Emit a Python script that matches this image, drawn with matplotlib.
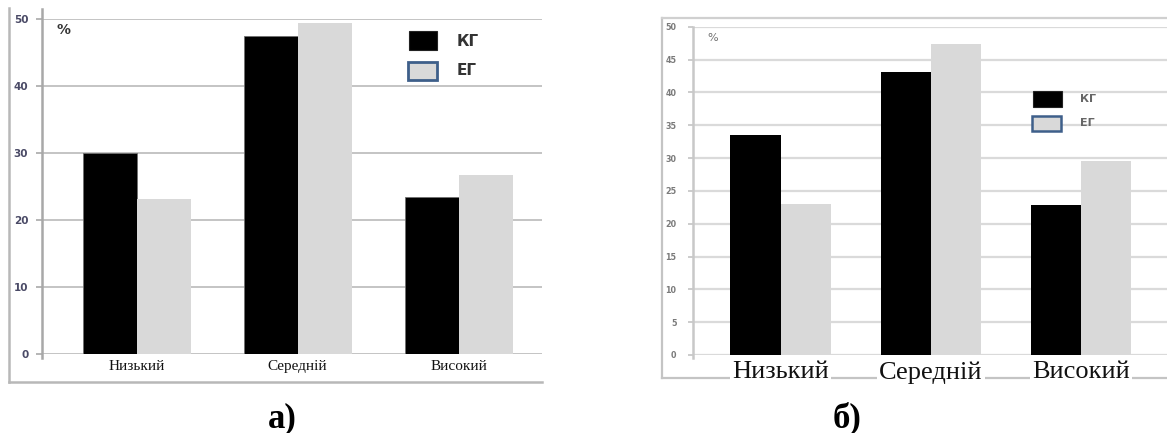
import matplotlib
matplotlib.use("Agg")
import matplotlib.pyplot as plt
from matplotlib.lines import Line2D
from matplotlib.patches import Rectangle
import numpy as np

# ---------------- data ----------------
categories = ["Низький", "Середній", "Високий"]
series_names = ["КГ", "ЕГ"]
kg_a = [30.0, 47.5, 23.5]
eg_a = [23.2, 49.5, 26.7]
kg_b = [33.5, 43.1, 22.8]
eg_b = [23.0, 47.4, 29.5]
ticks_a = [0, 10, 20, 30, 40, 50]
ticks_b = [0, 5, 10, 15, 20, 25, 30, 35, 40, 45, 50]
panel_labels = ["а)", "б)"]

W, H = 1167, 433
fig = plt.figure(figsize=(W / 100, H / 100), dpi=100)
fig.patch.set_facecolor("white")


def fx(x):
    return x / W


def fy(y):
    return 1 - y / H


def add_axes_px(x0, x1, ytop, ybot):
    return fig.add_axes([fx(x0), fy(ybot), (x1 - x0) / W, (ybot - ytop) / H])


def fig_line(xs, ys, color, lw, z=-1):
    fig.add_artist(Line2D([fx(x) for x in xs], [fy(y) for y in ys],
                          color=color, lw=lw, zorder=z))


def fig_rect(x0, y0, x1, y1, fc, ec, lw):
    fig.add_artist(Rectangle((fx(x0), fy(y1)), (x1 - x0) / W, (y1 - y0) / H,
                             facecolor=fc, edgecolor=ec, lw=lw, zorder=5))


COL_KG = "#000000"
COL_EG = "#d9d9d9"
BW = 0.335
x = np.arange(len(categories))

# ================= panel a =================
fig_line([9, 9], [8, 382], "#b8b8b8", 1.8)
fig_line([9, 542], [382, 382], "#b8b8b8", 1.8)

axa = add_axes_px(41.5, 542, 19.3, 354)
axa.bar(x - BW / 2, kg_a, BW, color=COL_KG, edgecolor="#707070", lw=0.6, zorder=3)
axa.bar(x + BW / 2, eg_a, BW, color=COL_EG, edgecolor="none", zorder=3)
axa.set_xlim(-0.59, 2.517)
axa.set_ylim(0, 50)
axa.set_yticks(ticks_a)
axa.set_yticklabels([str(t) for t in ticks_a], fontsize=7.5, fontweight="bold",
                    color="#4a4a66", family="DejaVu Sans")
axa.tick_params(axis="y", length=4.5, width=1.3, color="#b0b0b0", pad=5)
axa.grid(axis="y", color="#c4c4c4", lw=1.4, zorder=0)
axa.set_xticks(x)
axa.set_xticklabels(categories, fontsize=11, family="Liberation Serif", color="#111111")
axa.tick_params(axis="x", length=0, pad=4)
for s in axa.spines.values():
    s.set_visible(False)
axa.plot([-0.59, -0.59], [-0.6, 51.6], color="#a8a8a8", lw=1.8, clip_on=False, zorder=4)

fig.text(fx(57), fy(30), "%", fontsize=10, fontweight="bold", color="#333333",
         va="center", ha="left", family="DejaVu Sans")
# legend a
fig_rect(408.5, 31, 437, 50, COL_KG, "#222222", 0.8)
fig_rect(407.5, 61.5, 436.5, 80, COL_EG, "#3e5f8a", 2.0)
fig.text(fx(457), fy(41), series_names[0], fontsize=11, fontweight="bold",
         color="#333333", va="center", ha="left", family="DejaVu Sans")
fig.text(fx(457), fy(70.5), series_names[1], fontsize=11, fontweight="bold",
         color="#333333", va="center", ha="left", family="DejaVu Sans")

fig.text(fx(282), fy(427), panel_labels[0], fontsize=25, fontweight="bold",
         family="Liberation Serif", ha="center", va="baseline")

# ================= panel b =================
fig_line([661.5, 661.5], [18.3, 377.7], "#c4c4c4", 1.6)
fig_line([661.5, 1167], [18.3, 18.3], "#d0d0d0", 1.6)
fig_line([661.5, 1167], [377.7, 377.7], "#c4c4c4", 1.6)

axb = add_axes_px(692.5, 1167, 26.7, 355)
axb.bar(x - BW / 2, kg_b, BW, color=COL_KG, edgecolor="none", zorder=3)
axb.bar(x + BW / 2, eg_b, BW, color=COL_EG, edgecolor="none", zorder=3)
axb.set_xlim(-0.588, 2.573)
axb.set_ylim(0, 50)
axb.set_yticks(ticks_b)
axb.set_yticklabels([str(t) for t in ticks_b], fontsize=5.8, fontweight="bold",
                    color="#7a7a7a", family="DejaVu Sans")
axb.tick_params(axis="y", length=3.5, width=1.3, color="#c8c8c8", pad=8)
axb.grid(axis="y", color="#dadada", lw=1.6, zorder=0)
axb.set_xticks(x)
axb.set_xticklabels(categories, fontsize=19, family="Liberation Serif", color="#111111")
for lab in axb.get_xticklabels():
    lab.set_bbox(dict(facecolor="white", edgecolor="none", pad=1.5))
axb.tick_params(axis="x", length=0, pad=4.5)
for s in axb.spines.values():
    s.set_visible(False)
axb.plot([-0.588, -0.588], [0 - 0.4, 50], color="#c8c8c8", lw=1.8, clip_on=False, zorder=4)

fig.text(fx(707), fy(38), "%", fontsize=8, color="#707070",
         va="center", ha="left", family="DejaVu Sans")
# legend b
fig_rect(1033, 91, 1061.5, 106.5, COL_KG, "#222222", 0.8)
fig_rect(1032, 116, 1061, 131, COL_EG, "#3e5f8a", 1.8)
fig.text(fx(1080), fy(99), series_names[0], fontsize=8, fontweight="bold",
         color="#666666", va="center", ha="left", family="DejaVu Sans")
fig.text(fx(1080), fy(123.5), series_names[1], fontsize=8, fontweight="bold",
         color="#666666", va="center", ha="left", family="DejaVu Sans")

fig.text(fx(847), fy(427), panel_labels[1], fontsize=25, fontweight="bold",
         family="Liberation Serif", ha="center", va="baseline")

fig.savefig("out.png", dpi=100, facecolor="white")
